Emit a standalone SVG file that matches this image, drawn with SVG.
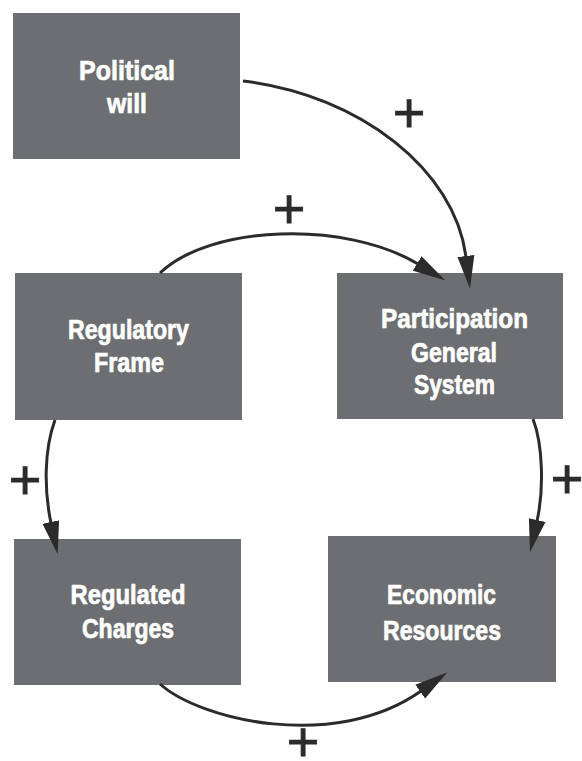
<svg xmlns="http://www.w3.org/2000/svg" width="582" height="761" viewBox="0 0 582 761">
<style>
.box{fill:#6d6e71;}
.lbl{fill:#ffffff;stroke:#ffffff;stroke-width:0.7px;font-family:"Liberation Sans Narrow","Liberation Sans",Arial,sans-serif;font-weight:bold;font-size:27.5px;text-anchor:middle;}
.edge{fill:none;stroke:#2b2b2b;stroke-width:3;marker-end:url(#ah);}
.plus{fill:#2b2b2b;stroke:#2b2b2b;stroke-width:0.8px;font-family:"Liberation Sans",Arial,sans-serif;font-size:56px;text-anchor:middle;}
</style>
<defs>
<marker id="ah" markerUnits="userSpaceOnUse" markerWidth="33" markerHeight="18" viewBox="0 0 33 18" refX="1" refY="9" orient="auto">
<path d="M0,0.5 L33,9 L0,17.5 z" fill="#2b2b2b"/>
</marker>
</defs>
<rect width="582" height="761" fill="#ffffff"/>
<g id="node-political-will">
<rect class="box" x="13" y="13" width="227" height="146"/>
<text class="lbl" x="127" y="80" textLength="96" lengthAdjust="spacingAndGlyphs">Political</text>
<text class="lbl" x="127" y="113" textLength="40" lengthAdjust="spacingAndGlyphs">will</text>
</g>
<g id="node-regulatory-frame">
<rect class="box" x="15" y="273" width="227" height="147"/>
<text class="lbl" x="128.5" y="339" textLength="121" lengthAdjust="spacingAndGlyphs">Regulatory</text>
<text class="lbl" x="129" y="372" textLength="70" lengthAdjust="spacingAndGlyphs">Frame</text>
</g>
<g id="node-participation">
<rect class="box" x="337" y="273" width="226" height="146"/>
<text class="lbl" x="454.5" y="328" textLength="147" lengthAdjust="spacingAndGlyphs">Participation</text>
<text class="lbl" x="454" y="362" textLength="86" lengthAdjust="spacingAndGlyphs">General</text>
<text class="lbl" x="454.5" y="394" textLength="81" lengthAdjust="spacingAndGlyphs">System</text>
</g>
<g id="node-regulated-charges">
<rect class="box" x="14" y="539" width="227" height="146"/>
<text class="lbl" x="128" y="604" textLength="115" lengthAdjust="spacingAndGlyphs">Regulated</text>
<text class="lbl" x="128" y="638" textLength="92" lengthAdjust="spacingAndGlyphs">Charges</text>
</g>
<g id="node-economic-resources">
<rect class="box" x="328" y="536" width="228" height="146"/>
<text class="lbl" x="441.5" y="604" textLength="109" lengthAdjust="spacingAndGlyphs">Economic</text>
<text class="lbl" x="442" y="640" textLength="118" lengthAdjust="spacingAndGlyphs">Resources</text>
</g>
<g id="connectors">
<path class="edge" d="M243,81 C360,95 455,170 466,257"/>
<path class="edge" d="M160,273 C210,225 345,220 418,264"/>
<path class="edge" d="M55,420 C44,450 44,490 51,523"/>
<path class="edge" d="M533,419 C543,445 544,490 537,521"/>
<path class="edge" d="M160,684 C200,720 335,752 421,691"/>
<text class="plus" x="409" y="132">+</text>
<text class="plus" x="289" y="228">+</text>
<text class="plus" x="25" y="499">+</text>
<text class="plus" x="567" y="498">+</text>
<text class="plus" x="303" y="761">+</text>
</g>
</svg>
